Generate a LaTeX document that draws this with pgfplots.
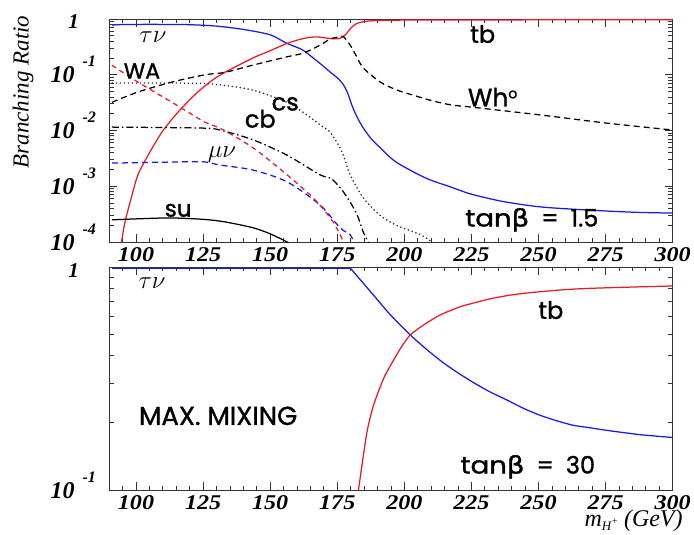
\documentclass[border=0pt]{standalone}
\usepackage{graphicx}
\usepackage{fontspec}
\setmainfont{Liberation Serif}
\newfontfamily\lab{Poppins}[FakeBold=1.2]
\newfontfamily\dv{DejaVu Sans}[FakeBold=1.2]
\usepackage{pgfplots}
\pgfplotsset{compat=1.18}

\definecolor{mblue}{RGB}{25,25,235}
\definecolor{mred}{RGB}{235,25,35}

% tick label of the form 10^{n}, exponent set high and to the right
\newcommand\tp[1]{10\hspace{8pt}\raisebox{16pt}{\fontsize{16}{16}\selectfont #1}}
\newcommand\one{\raisebox{-2pt}{\fontsize{21}{21}\selectfont 1}\hbox to 17pt{}}
\newcommand\sx[1]{\scalebox{1.15}[1]{#1}}
\newcommand\lbl[1]{\lab\fontsize{#1}{#1}\selectfont}

\pgfplotsset{
  brframe/.style={
    scale only axis, width=563.5pt, height=223pt,
    xmin=90, xmax=300, clip mode=individual,
    xtick={100,125,150,175,200,225,250,275,300},
    xticklabels={\sx{100},\sx{125},\sx{150},\sx{175},\sx{200},\sx{225},\sx{250},\sx{275},\sx{300}},
    minor xtick={95,100,...,295},
    tick align=inside, xtick pos=both, ytick pos=both,
    major tick length=8pt, minor tick length=4.5pt,
    axis line style={line width=0.9pt, black!80},
    every tick/.style={black!80, line width=0.8pt},
    xticklabel style={font=\fontsize{21}{21}\selectfont\bfseries\itshape,
      anchor=north, inner sep=0pt, yshift=-5pt},
    yticklabel style={font=\fontsize{24}{24}\selectfont\bfseries\itshape,
      anchor=base east, inner sep=0pt, xshift=-13pt, yshift=-8pt},
    every axis plot/.append style={line width=1.25pt},
  },
}

\begin{document}
\begin{tikzpicture}
\path[use as bounding box] (-109.2pt,-293pt) rectangle (584.8pt,242pt);

% ---------- tan(beta) = 1.5 ----------
\begin{axis}[ymode=log, brframe, at={(0pt,0pt)}, anchor=south west,
    ymin=1e-4, ymax=1,
    ytick={1e-4,1e-3,1e-2,1e-1,1},
    yticklabels={\tp{-4},\tp{-3},\tp{-2},\tp{-1},\one},
    minor ytick={2e-4,3e-4,4e-4,5e-4,6e-4,7e-4,8e-4,9e-4,
                 2e-3,3e-3,4e-3,5e-3,6e-3,7e-3,8e-3,9e-3,
                 2e-2,3e-2,4e-2,5e-2,6e-2,7e-2,8e-2,9e-2,
                 0.2,0.3,0.4,0.5,0.6,0.7,0.8,0.9}]

% tau nu
\addplot[mblue, smooth, tension=0.5] coordinates {
 (91,0.78)(95,0.795)(100,0.80)(110,0.80)(120,0.79)(130,0.745)(140,0.65)
 (150,0.52)(156,0.37)(162,0.28)(166,0.20)(170,0.14)(172.5,0.11)(175,0.088)
 (177.3,0.066)(179,0.045)(180.5,0.028)(182.5,0.017)(185,0.0105)(188,0.0068)
 (191,0.0049)(197,0.0027)(208,0.0014)(217,0.00098)(225,0.00072)(237,0.00053)
 (250,0.00043)(262,0.00039)(275,0.00036)(287,0.00034)(300,0.00033)};

% t b
\addplot[mred, smooth, tension=0.5] coordinates {
 (94.3,7e-5)(94.6,1e-4)(95.9,2.3e-4)(98.5,6.9e-4)(100.7,1.6e-3)(104.5,3.6e-3)
 (109.7,9.4e-3)(115.7,0.0215)(123,0.049)(129.5,0.087)(133,0.11)(143.6,0.2)
 (150,0.27)(156,0.36)(161,0.43)(165,0.47)(168,0.475)(171,0.455)(174,0.44)
 (176,0.45)(178,0.52)(180,0.68)(182,0.82)(185,0.9)(190,0.94)(200,0.955)
 (250,0.965)(300,0.97)};

% W h0
\addplot[black, dash pattern=on 6pt off 4pt, smooth, tension=0.5] coordinates {
 (91,0.032)(100.7,0.049)(113.4,0.074)(125.8,0.1)(133,0.11)(143.6,0.149)
 (156.3,0.21)(162.4,0.245)(168.6,0.34)(172.5,0.44)(176,0.48)(177.3,0.48)
 (179.8,0.34)(182.5,0.2)(184.7,0.132)(191,0.074)(197.3,0.053)(203.3,0.043)
 (209.6,0.035)(217,0.029)(225.8,0.026)(250.7,0.019)(275.7,0.0135)(300,0.0102)};

% c s
\addplot[black!85, dash pattern=on 1.3pt off 2.7pt, smooth, tension=0.5] coordinates {
 (91,0.071)(110,0.071)(125.8,0.070)(131.3,0.066)(143.6,0.053)(156.3,0.032)
 (162.4,0.021)(168.6,0.0126)(172.4,0.0093)(176,0.0049)(177.3,0.0036)
 (179.8,0.0016)(184.7,6.2e-4)(191,3e-4)(197,2e-4)(206,1.35e-4)(211,0.95e-4)};

% c b
\addplot[black, dash pattern=on 7pt off 3pt on 1.5pt off 3pt, smooth, tension=0.5] coordinates {
 (91,0.0115)(110,0.0113)(125.8,0.011)(131.3,0.0102)(143.6,0.0068)
 (156.3,0.0036)(168.6,0.0016)(172.5,0.0014)(176.5,8.9e-4)(179.8,5.2e-4)
 (182.5,3e-4)(184.7,1.5e-4)(187,0.9e-4)};

% mu nu
\addplot[mblue, dash pattern=on 6pt off 4pt, smooth, tension=0.5] coordinates {
 (91,0.0026)(110,0.0027)(124.6,0.00275)(131.3,0.0024)(143.6,0.00195)
 (156.3,0.0012)(168.6,4.6e-4)(176,1.8e-4)(179.8,1.35e-4)(181.5,0.9e-4)};

% W A
\addplot[mred, dash pattern=on 5pt off 4pt, smooth, tension=0.5] coordinates {
 (91,0.148)(100.7,0.074)(113.4,0.032)(125.8,0.014)(131.3,0.011)(143.6,0.0049)
 (156.3,0.0016)(166,6.2e-4)(172.4,2.7e-4)(176.1,1.35e-4)(177.5,0.9e-4)};

% s u
\addplot[black, smooth, tension=0.5] coordinates {
 (91,2.5e-4)(105,2.65e-4)(113.4,2.7e-4)(125,2.55e-4)(133,2.3e-4)
 (143.6,1.8e-4)(150,1.4e-4)(156.3,1.0e-4)(157.5,0.9e-4)};

\node at (axis cs:106.3,0.48) {\fontsize{29}{29}\selectfont$\tau\nu$};
\node at (axis cs:102.2,0.117) {\lbl{22}WA};
\node at (axis cs:155.6,0.030) {\lbl{24}cs};
\node at (axis cs:146.3,0.0162) {\lbl{24}cb};
\node at (axis cs:132,0.00363) {\fontsize{29}{29}\selectfont$\mu\nu$};
\node at (axis cs:115.7,3.7e-4) {\lbl{23}su};
\node at (axis cs:229.2,0.537) {\lbl{24}tb};
\node at (axis cs:232.9,0.0398) {\lbl{25}Wh\raisebox{8pt}{\fontsize{14}{14}\selectfont o}};
\node at (axis cs:247.5,2.5e-4)
  {\lbl{24}\scalebox{1.15}[1]{tan{\dv β}}\hspace{12pt}=\hspace{12pt}1.5};

\node[rotate=90, font=\fontsize{23}{23}\selectfont\itshape]
  at (axis description cs:-0.153,0.673) {Branching Ratio};
\end{axis}

% ---------- tan(beta) = 30 ----------
\begin{axis}[ymode=log, brframe, at={(0pt,-248pt)}, anchor=south west,
    ymin=0.1, ymax=1,
    ytick={0.1,1},
    yticklabels={\tp{-1},\one},
    minor ytick={0.2,0.3,0.4,0.5,0.6,0.7,0.8,0.9}]

% tau nu: flat up to the tb threshold, then falling
\addplot[mblue] coordinates {(91,0.984)(180,0.984)};
\addplot[mblue, smooth, tension=0.4] coordinates {
 (180,0.984)(188.5,0.748)(194.8,0.610)(202.2,0.496)(208.5,0.425)
 (214,0.376)(220,0.335)(226,0.302)(232,0.275)(238,0.254)(244.5,0.232)
 (250.7,0.216)(257,0.204)(263,0.195)(269.4,0.190)(275.6,0.185)(288,0.177)
 (300,0.172)};

% t b
\addplot[mred, smooth, tension=0.4] coordinates {
 (182.9,0.1)(184.2,0.129)(186.1,0.183)(188.5,0.24)(192.3,0.317)(196,0.383)
 (199,0.44)(202.2,0.496)(207.2,0.55)(213.4,0.61)(220.9,0.664)(225.9,0.69)
 (232,0.72)(238.5,0.745)(244.5,0.762)(250.7,0.775)(257,0.787)(263,0.796)
 (269,0.802)(275.7,0.807)(288,0.815)(300,0.822)};

\node at (axis cs:106,0.847) {\fontsize{29}{29}\selectfont$\tau\nu$};
\node at (axis cs:130.6,0.215) {\lbl{26}MAX. MIXING};
\node at (axis cs:254.6,0.641) {\lbl{24}tb};
\node at (axis cs:246,0.127)
  {\lbl{24}\scalebox{1.15}[1]{tan{\dv β}}\hspace{12pt}=\hspace{12pt}30};

\node[anchor=base east, inner sep=0pt, font=\fontsize{24}{24}\selectfont\itshape]
  at (axis description cs:1.018,-0.163)
  {m\raisebox{-4pt}{\fontsize{13}{13}\selectfont H\raisebox{6pt}{\fontsize{10}{10}\selectfont+}} (GeV)};
\end{axis}
\end{tikzpicture}
\end{document}
